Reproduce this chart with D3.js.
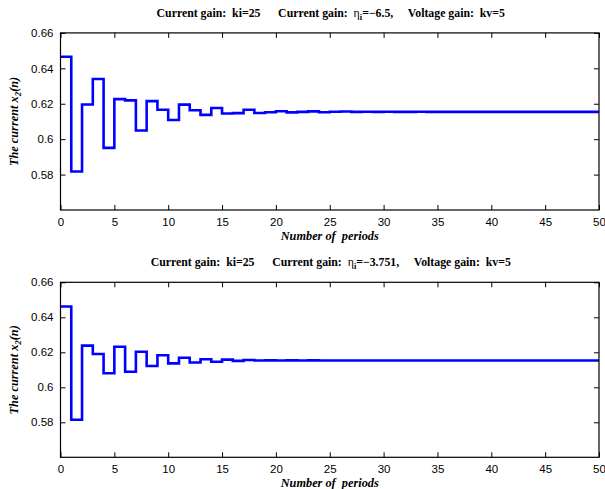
<!DOCTYPE html>
<html>
<head>
<meta charset="utf-8">
<script src="https://cdn.jsdelivr.net/npm/d3@7"></script>
<style>
  html, body { margin: 0; padding: 0; background: #fff; }
  svg { display: block; }
  .tick text { font-family: "Liberation Sans", Arial, sans-serif; font-size: 11.5px; fill: #000; }
  .ttl { font-family: "Liberation Serif", "Times New Roman", serif; font-weight: bold; font-size: 11.8px; }
  .lbl { font-family: "Liberation Serif", "Times New Roman", serif; font-weight: bold; font-style: italic; font-size: 12.3px; }
</style>
</head>
<body>
<svg id="chart" width="605" height="489"></svg>
<script>
// Sampled current x2(n) per period, held constant over each period (n = 0..50)
const periods = d3.range(0, 51);

const currentA = [
  0.6465, 0.5817, 0.6196, 0.6340, 0.5951, 0.6226, 0.6219, 0.6049, 0.6215, 0.6166,
  0.6108, 0.6195, 0.6163, 0.6137, 0.6176, 0.6145, 0.6147, 0.6166, 0.6148, 0.6152,
  0.6158, 0.6151, 0.6154, 0.6157, 0.6152, 0.6155, 0.6156, 0.6154, 0.6155, 0.6154,
  0.6155, 0.6154, 0.6154, 0.6155, 0.6154, 0.6154, 0.6154, 0.6154, 0.6154, 0.6154,
  0.6154, 0.6154, 0.6154, 0.6154, 0.6154, 0.6154, 0.6154, 0.6154, 0.6154, 0.6154,
  0.6154
];

const currentB = [
  0.6462, 0.5815, 0.6238, 0.6190, 0.6080, 0.6232, 0.6089, 0.6203, 0.6122, 0.6183,
  0.6137, 0.6169, 0.6142, 0.6160, 0.6146, 0.6158, 0.6151, 0.6156, 0.6153, 0.6154,
  0.6153, 0.6154, 0.6153, 0.6154, 0.6153, 0.6153, 0.6153, 0.6153, 0.6153, 0.6153,
  0.6153, 0.6153, 0.6153, 0.6153, 0.6153, 0.6153, 0.6153, 0.6153, 0.6153, 0.6153,
  0.6153, 0.6153, 0.6153, 0.6153, 0.6153, 0.6153, 0.6153, 0.6153, 0.6153, 0.6153,
  0.6153
];

const etaA = "=\u22126.5,";
const etaB = "=\u22123.751,";
const xTicks = d3.range(0, 51, 5);
const yTicks = [0.58, 0.60, 0.62, 0.64, 0.66];
const yDomain = [0.56, 0.66];

const svg = d3.select("#chart");
const left = 60.5, right = 599;

function panel(top, bottom, values, eta) {
  const x = d3.scaleLinear().domain([0, 50]).range([left, right]);
  const y = d3.scaleLinear().domain(yDomain).range([bottom, top]);
  const g = svg.append("g");
  const fmt = d => d3.format("")(+d.toFixed(2));

  // axes with inward ticks, mirrored on top and right (boxed frame)
  g.append("g").attr("transform", `translate(0,${bottom})`)
    .call(d3.axisBottom(x).tickValues(xTicks).tickSizeInner(-5).tickSizeOuter(0).tickPadding(8))
    .call(a => a.select(".domain").remove());
  g.append("g").attr("transform", `translate(0,${top})`)
    .call(d3.axisTop(x).tickValues(xTicks).tickSizeInner(-5).tickSizeOuter(0).tickFormat(""))
    .call(a => a.select(".domain").remove());
  g.append("g").attr("transform", `translate(${left},0)`)
    .call(d3.axisLeft(y).tickValues(yTicks).tickSizeInner(-5).tickSizeOuter(0).tickPadding(7).tickFormat(fmt))
    .call(a => a.select(".domain").remove());
  g.append("g").attr("transform", `translate(${right},0)`)
    .call(d3.axisRight(y).tickValues(yTicks).tickSizeInner(-5).tickSizeOuter(0).tickFormat(""))
    .call(a => a.select(".domain").remove());
  g.selectAll(".tick line").attr("stroke", "#000");

  // step trace
  const line = d3.line()
    .x((d, i) => x(periods[i]))
    .y(d => y(d))
    .curve(d3.curveStepAfter);
  g.append("path").datum(values)
    .attr("d", line)
    .attr("fill", "none")
    .attr("stroke", "#0000ff")
    .attr("stroke-width", 2.6)
    .attr("stroke-linejoin", "miter");

  // frame
  g.append("rect").attr("x", left).attr("y", top)
    .attr("width", right - left).attr("height", bottom - top)
    .attr("fill", "none").attr("stroke", "#000").attr("stroke-width", 1.2);

  // title
  const t = g.append("text").attr("class", "ttl")
    .attr("x", (left + right) / 2 + 1).attr("y", top - 16).attr("text-anchor", "middle")
    .attr("xml:space", "preserve");
  t.append("tspan").text("Current gain:  ki=25      Current gain:  ");
  t.append("tspan").style("font-weight", "normal").text("\u03b7");
  t.append("tspan").attr("dy", 3).attr("font-size", "8.5px").text("i");
  t.append("tspan").attr("dy", -3).text(eta + "     Voltage gain:  kv=5");

  // x label
  g.append("text").attr("class", "lbl")
    .attr("x", (left + right) / 2).attr("y", bottom + 30).attr("text-anchor", "middle")
    .attr("xml:space", "preserve")
    .text("Number of  periods");

  // y label
  const yl = g.append("text").attr("class", "lbl")
    .attr("transform", `translate(18,${(top + bottom) / 2}) rotate(-90)`)
    .attr("text-anchor", "middle");
  yl.append("tspan").text("The current x");
  yl.append("tspan").attr("dy", 3).attr("font-size", "9px").text("2");
  yl.append("tspan").attr("dy", -3).text("(n)");
}

panel(32.9, 210, currentA, etaA);
panel(282.3, 457.3, currentB, etaB);
</script>
</body>
</html>
